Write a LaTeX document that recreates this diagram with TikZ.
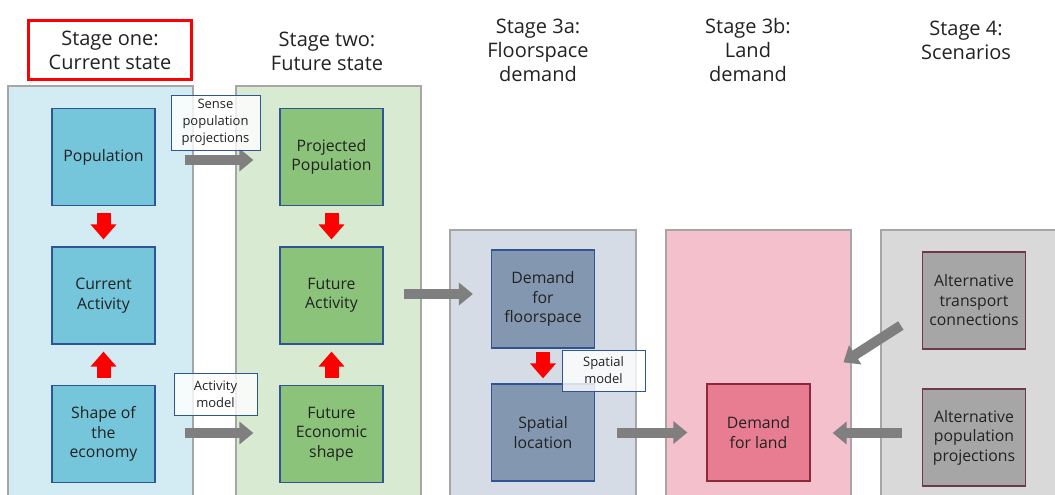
\documentclass[tikz,border=0pt]{standalone}
\usepackage{fontspec}
\setmainfont{Open Sans}
\usetikzlibrary{arrows.meta}

\definecolor{txtgray}{HTML}{222222}
\definecolor{panelA}{HTML}{D3EBF2}
\definecolor{boxA}{HTML}{75C5DB}
\definecolor{panelB}{HTML}{D9EAD3}
\definecolor{boxB}{HTML}{8BC37B}
\definecolor{panelC}{HTML}{D6DCE5}
\definecolor{boxC}{HTML}{8497B0}
\definecolor{panelD}{HTML}{F4C0CB}
\definecolor{boxD}{HTML}{E87D92}
\definecolor{panelE}{HTML}{D9D9D9}
\definecolor{boxE}{HTML}{A6A6A6}
\definecolor{edgeblue}{HTML}{2F5597}
\definecolor{edgered}{HTML}{8B2A3A}
\definecolor{edgemaroon}{HTML}{6E3A48}
\definecolor{flowgray}{HTML}{7F7F7F}

\begin{document}
\begin{tikzpicture}[x=1pt, y=-1pt,
  every node/.style={text=txtgray, align=center},
  panel/.style={draw=gray!70, line width=1.4pt},
  stagebox/.style={draw=edgeblue, line width=1.2pt, minimum width=103pt,
    minimum height=97pt, inner sep=2pt, font=\fontsize{15.8}{19.5}\selectfont},
  title/.style={font=\fontsize{20}{24}\selectfont},
  note/.style={draw=edgeblue, line width=0.9pt, fill=white, fill opacity=0.8,
    text opacity=1, inner sep=1pt, font=\fontsize{13}{17}\selectfont},
  redflow/.style={red, line width=14pt, -{Triangle[length=15pt, width=25pt]}},
  grayflow/.style={flowgray, line width=10pt, -{Triangle[length=14pt, width=22pt]}}]

  \useasboundingbox (0,0) rectangle (1055,495);

  % background panels
  \draw[panel, fill=panelA] (8,86) rectangle (193,498);
  \draw[panel, fill=panelB] (236,86) rectangle (421,498);
  \draw[panel, fill=panelC] (450,230) rectangle (636,498);
  \draw[panel, fill=panelD] (666,230) rectangle (851,498);
  \draw[panel, fill=panelE] (881,230) rectangle (1058,498);

  % stage titles
  \node[title, draw=red, line width=3pt, minimum width=163pt, minimum height=59pt]
    (t1) at (110,50) {Stage one:\\Current state};
  \node[title] (t2) at (327,51) {Stage two:\\Future state};
  \node[title] (t3a) at (538,50) {Stage 3a:\\Floorspace\\demand};
  \node[title] (t3b) at (748,50) {Stage 3b:\\Land\\demand};
  \node[title] (t4) at (966,40) {Stage 4:\\Scenarios};

  % stage one
  \node[stagebox, fill=boxA] (pop) at (103.5,157) {Population};
  \node[stagebox, fill=boxA] (curact) at (103.5,295.5) {Current\\Activity};
  \node[stagebox, fill=boxA] (econ) at (103.5,434) {Shape of\\the\\economy};

  % stage two
  \node[stagebox, fill=boxB] (projpop) at (331.5,157) {Projected\\Population};
  \node[stagebox, fill=boxB] (futact) at (331.5,295.5) {Future\\Activity};
  \node[stagebox, fill=boxB] (futecon) at (331.5,434) {Future\\Economic\\shape};

  % stage 3a
  \node[stagebox, fill=boxC, minimum height=98pt] (floor) at (543,299) {Demand\\for\\floorspace};
  \node[stagebox, fill=boxC] (spatial) at (543,432.5) {Spatial\\location};

  % stage 3b
  \node[stagebox, fill=boxD, draw=edgered] (land) at (758.5,432.5) {Demand\\for land};

  % stage 4
  \node[stagebox, fill=boxE, draw=edgemaroon] (trans) at (974,300.5) {Alternative\\transport\\connections};
  \node[stagebox, fill=boxE, draw=edgemaroon] (altpop) at (974,437.5) {Alternative\\population\\projections};

  % red arrows inside stages
  \draw[redflow, shorten <=7pt, shorten >=7pt] (pop) -- (curact);
  \draw[redflow, shorten <=7pt, shorten >=7pt] (econ) -- (curact);
  \draw[redflow, shorten <=7pt, shorten >=7pt] (projpop) -- (futact);
  \draw[redflow, shorten <=7pt, shorten >=7pt] (futecon) -- (futact);
  \draw[redflow, shorten <=3pt, shorten >=5pt] (floor) -- (spatial);

  % gray arrows between stages (yshift is upward here)
  \draw[grayflow, shorten <=29pt, shorten >=26pt] ([yshift=-3pt]pop.east) -- ([yshift=-3pt]projpop.west);
  \draw[grayflow, shorten <=29pt, shorten >=26pt] ([yshift=1pt]econ.east) -- ([yshift=1pt]futecon.west);
  \draw[grayflow, shorten <=20pt, shorten >=18pt] ([yshift=1.5pt]futact.east) -- ([yshift=5pt]floor.west);
  \draw[grayflow, shorten <=22pt, shorten >=19pt] (spatial) -- (land);
  \draw[grayflow, shorten <=20pt, shorten >=22pt] ([yshift=4.5pt]altpop.west) -- ([yshift=-0.5pt]land.east);
  \draw[grayflow, shorten <=25pt, shorten >=39pt] ([yshift=-11.5pt]trans.west) -- (land.north east);

  % method notes
  \node[note, minimum width=89pt, minimum height=55pt] (sense) at (215.5,122.5) {Sense\\population\\projections};
  \node[note, minimum width=83pt, minimum height=42pt] (actmodel) at (215.5,394) {Activity\\model};
  \node[note, minimum width=83pt, minimum height=41pt] (spmodel) at (603.5,370.5) {Spatial\\model};
\end{tikzpicture}
\end{document}
